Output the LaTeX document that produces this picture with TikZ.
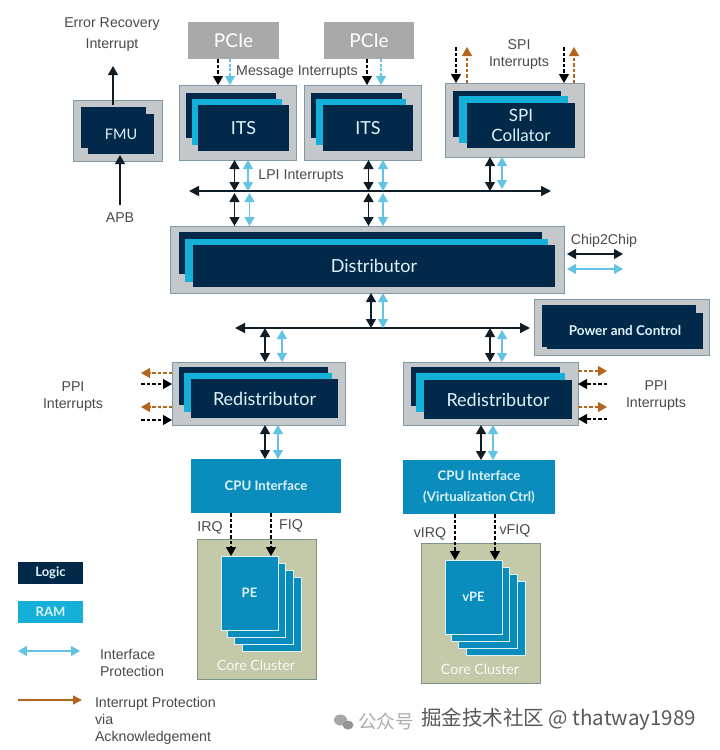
\documentclass[tikz,border=0pt]{standalone}
\usepackage{fontspec}
\setmainfont{Liberation Sans}
\newfontfamily\gillish{Lato}
\newfontfamily\cjkfont{Noto Sans CJK SC}
\usetikzlibrary{arrows.meta,calc}
\definecolor{navy}{HTML}{03294A}
\definecolor{ramc}{HTML}{14B0D8}
\definecolor{shell}{HTML}{C4C8CB}
\definecolor{shelledge}{HTML}{7F9AA5}
\definecolor{pciec}{HTML}{A9A9A9}
\definecolor{cpuc}{HTML}{0A8DBD}
\definecolor{clusterc}{HTML}{C4C9A9}
\definecolor{clusteredge}{HTML}{7E9386}
\definecolor{protc}{HTML}{62C3E2}
\definecolor{ackc}{HTML}{B4651F}
\definecolor{inkc}{HTML}{101C26}
\definecolor{labelc}{HTML}{4A4A4A}
\definecolor{palec}{HTML}{DDF3FA}
\tikzset{
  x=1pt,y=-1pt,
  base/.style={rectangle,inner sep=0pt,outer sep=0pt,align=center},
  shellbox/.style={base,fill=shell,draw=shelledge,line width=0.7pt},
  logicbox/.style={base,fill=navy,text=palec,font=\gillish\fontsize{18}{22}\selectfont},
  rambox/.style={base,fill=ramc},
  pciebox/.style={base,fill=pciec,text=white,font=\gillish\fontsize{19}{22}\selectfont},
  cpubox/.style={base,fill=cpuc,text=palec,font=\gillish\bfseries\fontsize{13.2}{21}\selectfont},
  pagebox/.style={base,fill=cpuc,draw=palec,line width=0.6pt,text=palec,font=\gillish\bfseries\fontsize{13}{16}\selectfont},
  clusterbox/.style={base,fill=clusterc,draw=clusteredge,line width=0.7pt},
  lab/.style={inner sep=0pt,outer sep=0pt,yshift=-1.5pt,align=center,text=labelc,font=\fontsize{14.2}{17}\selectfont},
  leftlab/.style={lab,align=left,anchor=west},
  corelab/.style={inner sep=0pt,text=white!88!clusterc,font=\gillish\fontsize{14.2}{16}\selectfont},
  solidarr/.style={line width=1.3pt,draw=inkc,-{Triangle[length=9pt,width=10pt]}},
  twoway/.style={line width=1.3pt,draw=inkc,{Triangle[length=9pt,width=10pt]}-{Triangle[length=9pt,width=10pt]}},
  bustwo/.style={line width=1.6pt,draw=inkc,{Triangle[length=10pt,width=10pt]}-{Triangle[length=10pt,width=10pt]}},
  prottwo/.style={line width=1.3pt,draw=protc,{Triangle[length=9pt,width=10pt]}-{Triangle[length=9pt,width=10pt]}},
  dashblack/.style={line width=1.3pt,draw=black,dash pattern=on 3.5pt off 2pt,-{Triangle[length=9pt,width=10pt]}},
  dashprot/.style={line width=1.2pt,draw=protc,dash pattern=on 3pt off 1.5pt,-{Triangle[length=9pt,width=10pt]}},
  dashack/.style={line width=1.2pt,draw=ackc,dash pattern=on 3.5pt off 2pt,-{Triangle[length=9pt,width=10pt]}},
  ackarr/.style={line width=1.3pt,draw=ackc,-{Triangle[length=9pt,width=9pt]}},
}
\newcommand{\rbox}[7][]{%
  \node[#6,minimum width={(#4-#2)*1pt},minimum height={(#5-#3)*1pt},#1] at ({(#2+#4)/2},{(#3+#5)/2}) {#7};}
\begin{document}
\begin{tikzpicture}
\useasboundingbox[fill=white] (0,0) rectangle (720,750);

% FMU
\rbox[name=fmu]{73}{100}{162}{161}{shellbox}{}
\rbox[name=fmuA]{81}{107}{146}{148}{logicbox}{}
\rbox[name=fmuB,font=\gillish\fontsize{14.5}{18}\selectfont]{88}{114}{154}{154}{logicbox}{FMU}
% PCIe
\rbox[name=pcieA]{188}{22}{279}{59}{pciebox}{PCIe}
\rbox[name=pcieB]{324}{22}{414}{59}{pciebox}{PCIe}
% ITS 1
\rbox[name=itsA]{179}{85}{296}{160}{shellbox}{}
\rbox[name=itsAa]{186}{93}{276}{138}{logicbox}{}
\rbox[name=itsAb]{192}{99}{282}{145}{rambox}{}
\rbox[name=itsAc]{198}{105}{289}{151}{logicbox}{ITS}
% ITS 2
\rbox[name=itsB]{304}{85}{421}{160}{shellbox}{}
\rbox[name=itsBa]{311}{93}{402}{138}{logicbox}{}
\rbox[name=itsBb]{316}{99}{406}{145}{rambox}{}
\rbox[name=itsBc]{323}{105}{413}{151}{logicbox}{ITS}
% SPI
\rbox[name=spi]{445}{83}{584}{157}{shellbox}{}
\rbox[name=spia]{453}{91}{561}{137}{logicbox}{}
\rbox[name=spib]{459}{96}{568}{143}{rambox}{}
\rbox[name=spic,font=\gillish\fontsize{17}{20}\selectfont]{467}{103}{575}{148}{logicbox}{SPI\\Collator}
% Distributor
\rbox[name=dist]{170}{226}{564}{293}{shellbox}{}
\rbox[name=dista]{179}{232}{542}{274}{logicbox}{}
\rbox[name=distb]{185}{239}{548}{282}{rambox}{}
\rbox[name=distc]{193}{245}{555}{287}{logicbox}{Distributor}
% Power
\rbox[name=power]{534}{299}{709}{355}{shellbox}{}
\rbox[name=powera]{542}{305}{696}{347}{logicbox}{}
\rbox[name=powerb,font=\gillish\bfseries\fontsize{13.5}{16}\selectfont]{547}{313}{703}{349}{logicbox}{Power and Control}
% Redistributors
\rbox[name=redA]{172}{362}{345}{425}{shellbox}{}
\rbox[name=redAa]{179}{367}{328}{405}{logicbox}{}
\rbox[name=redAb]{184}{373}{332}{412}{rambox}{}
\rbox[name=redAc]{191}{379}{338}{418}{logicbox}{Redistributor}
\rbox[name=redB]{403}{362}{578}{425}{shellbox}{}
\rbox[name=redBa]{411}{367}{560}{406}{logicbox}{}
\rbox[name=redBb]{416}{373}{565}{412}{rambox}{}
\rbox[name=redBc]{424}{380}{572}{419}{logicbox}{Redistributor}
% CPU interfaces
\rbox[name=cpuA]{191}{459}{341}{513}{cpubox}{\raisebox{-1pt}{CPU Interface}}
\rbox[name=cpuB]{403}{460}{555}{514}{cpubox}{CPU Interface\\(Virtualization Ctrl)}
% Clusters
\rbox[name=clusterA]{197}{539}{316}{679}{clusterbox}{}
\rbox[name=peA3]{242}{577}{301}{651}{pagebox}{}
\rbox[name=peA2]{234}{570}{293}{644}{pagebox}{}
\rbox[name=peA1]{227}{563}{285}{637}{pagebox}{}
\rbox[name=peA0]{221}{556}{278}{630}{pagebox}{PE}
\node[corelab] (coreA) at (256,665) {Core Cluster};
\rbox[name=clusterB]{421}{543}{540}{683}{clusterbox}{}
\rbox[name=peB3]{466}{581}{525}{655}{pagebox}{}
\rbox[name=peB2]{458}{574}{517}{648}{pagebox}{}
\rbox[name=peB1]{451}{567}{509}{641}{pagebox}{}
\rbox[name=peB0]{445}{560}{502}{634}{pagebox}{vPE}
\node[corelab] (coreB) at (480,669) {Core Cluster};
% Legend
\rbox[name=logicKey,font=\gillish\bfseries\fontsize{13}{15}\selectfont]{18}{562}{83}{584}{logicbox}{\raisebox{-1.5pt}{Logic}}
\rbox[name=ramKey,text=palec,font=\gillish\bfseries\fontsize{13}{15}\selectfont]{18}{601}{83}{623}{rambox}{\raisebox{-0.5pt}{RAM}}

% Free ends
\coordinate (busAl) at (189,191);
\coordinate (busAr) at (551,191);
\coordinate (busBl) at (235,328);
\coordinate (busBr) at (530,328);
\coordinate (errEnd) at (113,66);
\coordinate (apbEnd) at (120,205);
\coordinate (spiTop) at (0,47);
\coordinate (chipL) at (567,0);
\coordinate (chipR) at (623,0);
\coordinate (ppiL) at (141,0);
\coordinate (ppiR) at (607,0);

% Buses
\draw[bustwo] (busAl) -- (busAr);
\draw[bustwo] (busBl) -- (busBr);

% FMU arrows
\draw[solidarr] (113,0 |- fmu.north) ++(0,5) -- (errEnd);
\draw[solidarr] (apbEnd) -- (120,0 |- fmu.south) ++(0,-6);

% PCIe to ITS
\draw[dashblack] (218,0 |- pcieA.south) -- (218,0 |- itsA.north);
\draw[dashprot]  (230,0 |- pcieA.south) -- (230,0 |- itsA.north);
\draw[dashblack] (367,0 |- pcieB.south) -- (367,0 |- itsB.north);
\draw[dashprot]  (381,0 |- pcieB.south) -- (381,0 |- itsB.north);

% ITS to bus
\draw[twoway]  (234.5,0 |- itsA.south) -- (234.5,0 |- busAl);
\draw[prottwo] (248,0 |- itsA.south) -- (248,0 |- busAl);
\draw[twoway]  (368.5,0 |- itsB.south) -- (368.5,0 |- busAl);
\draw[prottwo] (383,0 |- itsB.south) -- (383,0 |- busAl);
% bus to distributor
\draw[twoway]  (234.5,193) -- (234.5,0 |- dist.north);
\draw[prottwo] (249.5,193) -- (249.5,0 |- dist.north);
\draw[twoway]  (368.5,193) -- (368.5,0 |- dist.north);
\draw[prottwo] (383,193) -- (383,0 |- dist.north);
% SPI to bus
\draw[twoway]  (490,0 |- spi.south) -- (490,0 |- busAl);
\draw[prottwo] (502,0 |- spi.south) -- (502,189);
% SPI inputs
\draw[dashblack] (456,0 |- spiTop) -- (456,0 |- spi.north);
\draw[dashack]   (467,0 |- spi.north) -- (467,0 |- spiTop);
\draw[dashblack] (564,0 |- spiTop) -- (564,0 |- spi.north);
\draw[dashack]   (574,0 |- spi.north) -- (574,0 |- spiTop);
% Distributor to bus 2
\draw[twoway]  (371,0 |- dist.south) -- (371,0 |- busBl);
\draw[prottwo] (383,0 |- dist.south) -- (383,0 |- busBl);
% Bus 2 to redistributors
\draw[twoway]  (265,0 |- busBl) -- (265,0 |- redA.north);
\draw[prottwo] (282,330) -- (282,0 |- redA.north);
\draw[twoway]  (490,0 |- busBl) -- (490,0 |- redB.north);
\draw[prottwo] (502,330) -- (502,0 |- redB.north);
% Redistributor to CPU
\draw[twoway]  (265,0 |- redA.south) -- (265,0 |- cpuA.north);
\draw[prottwo] (278,0 |- redA.south) -- (278,0 |- cpuA.north);
\draw[twoway]  (481,0 |- redB.south) -- (481,0 |- cpuB.north);
\draw[prottwo] (493,0 |- redB.south) -- (493,0 |- cpuB.north);
% CPU to PE
\draw[dashblack] (231,0 |- cpuA.south) -- (231,0 |- peA0.north);
\draw[dashblack] (271,0 |- cpuA.south) -- (271,0 |- peA0.north);
\draw[dashblack] (455,0 |- cpuB.south) -- (455,0 |- peB0.north);
\draw[dashblack] (495,0 |- cpuB.south) -- (495,0 |- peB0.north);
% PPI left
\draw[dashack]   (redA.west |- 0,373) -- (ppiL |- 0,373);
\draw[dashblack] (ppiL |- 0,384) -- (redA.west |- 0,384);
\draw[dashack]   (redA.west |- 0,407) -- (ppiL |- 0,407);
\draw[dashblack] (ppiL |- 0,420) -- (redA.west |- 0,420);
% PPI right
\draw[dashack]   (redB.east |- 0,371) -- (ppiR |- 0,371);
\draw[dashblack] (ppiR |- 0,384) -- (redB.east |- 0,384);
\draw[dashack]   (redB.east |- 0,407) -- (ppiR |- 0,407);
\draw[dashblack] (ppiR |- 0,419) -- (redB.east |- 0,419);
% Chip2Chip
\draw[twoway]  (chipL |- 0,254) -- (chipR |- 0,254);
\draw[prottwo] (chipL |- 0,269) -- (chipR |- 0,269);
% Legend arrows
\coordinate (keyL) at (18,0);
\draw[prottwo] (keyL |- 0,651) -- (80,651);
\draw[ackarr]  (keyL |- 0,700) -- (82,700);

% Labels
\node[lab,font=\fontsize{14.2}{21.5}\selectfont] (tErr) at (112,33) {Error Recovery\\Interrupt};
\node[lab] (tApb) at (120,216) {APB};
\node[lab] (tMsg) at (297,71) {Message Interrupts};
\node[lab] (tLpi) at (301,175) {LPI Interrupts};
\node[lab] (tSpi) at (519,53.5) {SPI\\Interrupts};
\node[lab] (tChip) at (604,239) {Chip2Chip};
\node[lab] (tPpiL) at (73,395.5) {PPI\\Interrupts};
\node[lab] (tPpiR) at (656,394.5) {PPI\\Interrupts};
\node[lab] (tIrq) at (210,526) {IRQ};
\node[lab] (tFiq) at (291,524) {FIQ};
\node[lab] (tvIrq) at (430,532) {vIRQ};
\node[lab] (tvFiq) at (515,529) {vFIQ};
\node[leftlab] (tIface) at (100,661) {Interface\\Protection};
\node[leftlab] (tAck) at (95,719) {Interrupt Protection\\via\\Acknowledgement};

% Watermark
\fill[gray!70] (340.5,720) ellipse [x radius=6.5,y radius=5.5];
\fill[gray!85] (348,725) ellipse [x radius=5.5,y radius=4.5];
\node[inner sep=0pt,anchor=west,text=gray!65,font=\cjkfont\fontsize{18.5}{20}\selectfont] (wmA) at (358,721) {公众号};
\node[inner sep=0pt,anchor=west,text=black!65,font=\cjkfont\fontsize{20.5}{22}\selectfont] (wmB) at (421,719) {掘金技术社区 @ thatway1989};
\end{tikzpicture}
\end{document}
